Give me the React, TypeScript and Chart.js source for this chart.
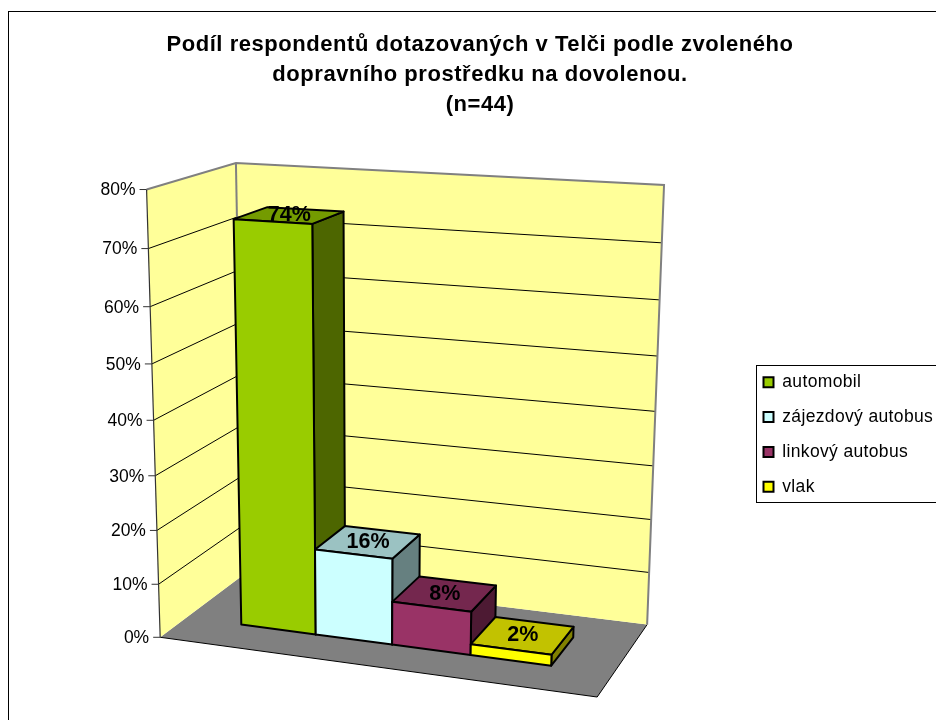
import React, { useEffect, useRef } from "react";
import { Chart, registerables } from "chart.js";

Chart.register(...registerables);

const TITLE_LINES = [
  "Podíl respondentů dotazovaných v Telči podle zvoleného",
  "dopravního prostředku na dovolenou.",
  "(n=44)",
];
const CATEGORY = [""];
const SERIES_NAMES = ["automobil", "zájezdový autobus", "linkový autobus", "vlak"];
const AUTOMOBIL = [74];
const ZAJEZDOVY = [16];
const LINKOVY = [8];
const VLAK = [2];
const SERIES_COLORS = ["#99CC00", "#CCFFFF", "#993366", "#FFFF00"];
const Y_MIN = 0;
const Y_MAX = 80;
const Y_STEP = 10;
const FONT = '"Liberation Sans", Arial, sans-serif';

// Picture calibration of the 3D box: (across, height, depth) -> (x, y)
const CALIBRATION: number[][] = [
  [0, 0, 0, 161, 637],
  [1, 0, 0, 597, 698],
  [0, 1, 0, 146, 189],
  [0, 0, 1, 241, 576],
  [1, 0, 1, 647, 624],
  [0, 1, 1, 237, 163],
  [0, 1, 1, 237, 163],
  [0, 1, 1, 237, 163],
  [1, 1, 1, 664, 185],
  [1, 1, 1, 664, 185],
  [0, 0.5, 0, 153.8, 421],
  [0.136, 0, 0.3, 242, 624],
  [0.864, 0, 0.3, 552, 666],
  [0.5, 0, 0.3, 393, 643],
  [0.136, 0.925, 0.3, 232, 219],
  [0.318, 0.925, 0.3, 311, 225],
  [0.318, 0.925, 0.7, 343, 211],
];
const DEPTH_FRONT = 0.3;
const DEPTH_BACK = 0.7;

function solveProjection(points: number[][]) {
  const n = 11;
  const A: number[][] = Array.from({ length: n }, () => new Array(n + 1).fill(0));
  const add = (row: number[], rhs: number) => {
    for (let i = 0; i < n; i++) {
      for (let j = 0; j < n; j++) A[i][j] += row[i] * row[j];
      A[i][n] += row[i] * rhs;
    }
  };
  for (const [X, Y, Z, x, y] of points) {
    add([X, Y, Z, 1, 0, 0, 0, 0, -x * X, -x * Y, -x * Z], x);
    add([0, 0, 0, 0, X, Y, Z, 1, -y * X, -y * Y, -y * Z], y);
  }
  for (let c = 0; c < n; c++) {
    let p = c;
    for (let r = c + 1; r < n; r++) if (Math.abs(A[r][c]) > Math.abs(A[p][c])) p = r;
    [A[c], A[p]] = [A[p], A[c]];
    for (let r = 0; r < n; r++) {
      if (r === c) continue;
      const f = A[r][c] / A[c][c];
      for (let k = c; k <= n; k++) A[r][k] -= f * A[c][k];
    }
  }
  return A.map((row, i) => row[n] / row[i]);
}

const M = solveProjection(CALIBRATION);
function project(u: number, v: number, w: number): [number, number] {
  const d = M[8] * u + M[9] * v + M[10] * w + 1;
  return [
    (M[0] * u + M[1] * v + M[2] * w + M[3]) / d,
    (M[4] * u + M[5] * v + M[6] * w + M[7]) / d,
  ];
}

function shade(hex: string, f: number) {
  const n = parseInt(hex.slice(1), 16);
  const c = [(n >> 16) & 255, (n >> 8) & 255, n & 255].map((x) => Math.round(x * f));
  return `rgb(${c[0]},${c[1]},${c[2]})`;
}

function poly(ctx: CanvasRenderingContext2D, pts: [number, number][], fill?: string, stroke?: string, lw = 1) {
  ctx.beginPath();
  pts.forEach((p, i) => (i ? ctx.lineTo(p[0], p[1]) : ctx.moveTo(p[0], p[1])));
  ctx.closePath();
  if (fill) {
    ctx.fillStyle = fill;
    ctx.fill();
  }
  if (stroke) {
    ctx.strokeStyle = stroke;
    ctx.lineWidth = lw;
    ctx.lineJoin = "round";
    ctx.stroke();
  }
}

function line(ctx: CanvasRenderingContext2D, pts: [number, number][], color: string, lw: number) {
  ctx.beginPath();
  pts.forEach((p, i) => (i ? ctx.lineTo(p[0], p[1]) : ctx.moveTo(p[0], p[1])));
  ctx.strokeStyle = color;
  ctx.lineWidth = lw;
  ctx.stroke();
}

const scene3d = {
  id: "scene3d",
  afterLayout(chart: any) {
    const legend = chart.legend;
    legend.left = 746.1;
    legend.right = 960;
    legend.top = 356;
    legend.bottom = 720;
    if (!chart.$wrapped) {
      chart.$wrapped = true;
      const wrap = (box: any, spacing: string) => {
        const orig = box.draw;
        box.draw = function (...args: any[]) {
          const ctx = chart.ctx;
          ctx.save();
          ctx.letterSpacing = spacing;
          orig.apply(this, args);
          ctx.restore();
        };
      };
      wrap(chart.titleBlock, "0.55px");
      wrap(chart.legend, "0.35px");
    }
  },
  beforeDraw(chart: any) {
    const ctx = chart.ctx as CanvasRenderingContext2D;
    const yScale = chart.scales.y;
    const toV = (val: number) => (val - yScale.min) / (yScale.max - yScale.min);
    ctx.save();
    // frame and legend box
    ctx.strokeStyle = "#000";
    ctx.lineWidth = 1;
    ctx.strokeRect(8.5, 11.5, 1000, 1000);
    ctx.strokeRect(756.5, 365.5, 400, 137);
    // floor
    poly(ctx, [project(0, 0, 0), project(1, 0, 0), project(1, 0, 1), project(0, 0, 1)], "#808080");
    line(ctx, [project(0, 0, 0), project(1, 0, 0), project(1, 0, 1)], "#000", 1);
    // walls
    poly(ctx, [project(0, 0, 0), project(0, 1, 0), project(0, 1, 1), project(0, 0, 1)], "#FFFF99");
    poly(ctx, [project(0, 0, 1), project(0, 1, 1), project(1, 1, 1), project(1, 0, 1)], "#FFFF99");
    // grid lines and axis labels from the scale's ticks
    ctx.font = `17.5px ${FONT}`;
    ctx.textAlign = "right";
    ctx.textBaseline = "middle";
    for (const tick of yScale.ticks) {
      const v = toV(tick.value);
      const p = project(0, v, 0);
      if (v > 0 && v < 1) {
        line(ctx, [p, project(0, v, 1), project(1, v, 1)], "#000", 1);
      }
      line(ctx, [[p[0] - 7, p[1]], p], "#333", 1);
      ctx.fillStyle = "#000";
      ctx.fillText(tick.label, p[0] - 11, p[1] + 1);
    }
    // wall outlines
    line(ctx, [project(0, 1, 0), project(0, 1, 1), project(1, 1, 1), project(1, 0, 1)], "#808080", 2);
    line(ctx, [project(0, 0, 1), project(0, 1, 1)], "#808080", 2);
    line(ctx, [project(0, 0, 0), project(0, 1, 0)], "#333", 1.2);
    ctx.restore();
  },
  beforeDatasetsDraw(chart: any) {
    const ctx = chart.ctx as CanvasRenderingContext2D;
    const area = chart.chartArea;
    const toU = (px: number) => (px - area.left) / (area.right - area.left);
    const toV = (py: number) => (area.bottom - py) / (area.bottom - area.top);
    ctx.save();
    chart.data.datasets.forEach((ds: any, i: number) => {
      const el = chart.getDatasetMeta(i).data[0];
      const u0 = toU(el.x - el.width / 2);
      const u1 = toU(el.x + el.width / 2);
      const v1 = toV(el.y);
      const v0 = toV(el.base);
      const f = DEPTH_FRONT;
      const b = DEPTH_BACK;
      const col = ds.backgroundColor as string;
      poly(ctx, [project(u1, v0, f), project(u1, v0, b), project(u1, v1, b), project(u1, v1, f)], shade(col, 0.5), "#000", 2);
      poly(ctx, [project(u0, v1, f), project(u1, v1, f), project(u1, v1, b), project(u0, v1, b)], shade(col, 0.76), "#000", 2);
      poly(ctx, [project(u0, v0, f), project(u1, v0, f), project(u1, v1, f), project(u0, v1, f)], col, "#000", 2);
      const at = project((u0 + u1) / 2, v1, (f + b) / 2);
      ctx.fillStyle = "#000";
      ctx.font = `bold 21.5px ${FONT}`;
      ctx.textAlign = "center";
      ctx.textBaseline = "middle";
      ctx.fillText(`${ds.data[0]}%`, at[0], at[1]);
    });
    ctx.restore();
    return false;
  },
};

export default function App() {
  const ref = useRef<HTMLCanvasElement>(null);
  useEffect(() => {
    const values = [AUTOMOBIL, ZAJEZDOVY, LINKOVY, VLAK];
    const chart = new Chart(ref.current as HTMLCanvasElement, {
      type: "bar",
      data: {
        labels: CATEGORY,
        datasets: SERIES_NAMES.map((name, i) => ({
          label: name,
          data: values[i],
          backgroundColor: SERIES_COLORS[i],
          borderColor: "#000",
          borderWidth: 2,
          categoryPercentage: 4 / 5.5,
          barPercentage: 1,
        })),
      },
      options: {
        animation: false,
        responsive: false,
        events: [],
        plugins: {
          title: {
            display: true,
            text: TITLE_LINES,
            color: "#000",
            font: { family: FONT, size: 22, weight: "bold", lineHeight: 30 / 22 },
            padding: { top: 30, bottom: 10 },
          },
          legend: {
            display: true,
            position: "right",
            align: "start",
            labels: {
              color: "#000",
              font: { family: FONT, size: 17.5 },
              boxWidth: 10,
              boxHeight: 10,
              padding: 17.4,
            },
          },
          tooltip: { enabled: false },
        },
        scales: {
          x: { display: false, offset: true },
          y: {
            display: false,
            min: Y_MIN,
            max: Y_MAX,
            ticks: { stepSize: Y_STEP, callback: (v: any) => `${v}%` },
          },
        },
      },
      plugins: [scene3d],
    } as any);
    return () => chart.destroy();
  }, []);
  return (
    <div style={{ position: "fixed", left: 0, top: 0, width: 936, height: 720, overflow: "hidden", background: "#fff" }}>
      <canvas ref={ref} width={960} height={720} style={{ display: "block" }} />
    </div>
  );
}
